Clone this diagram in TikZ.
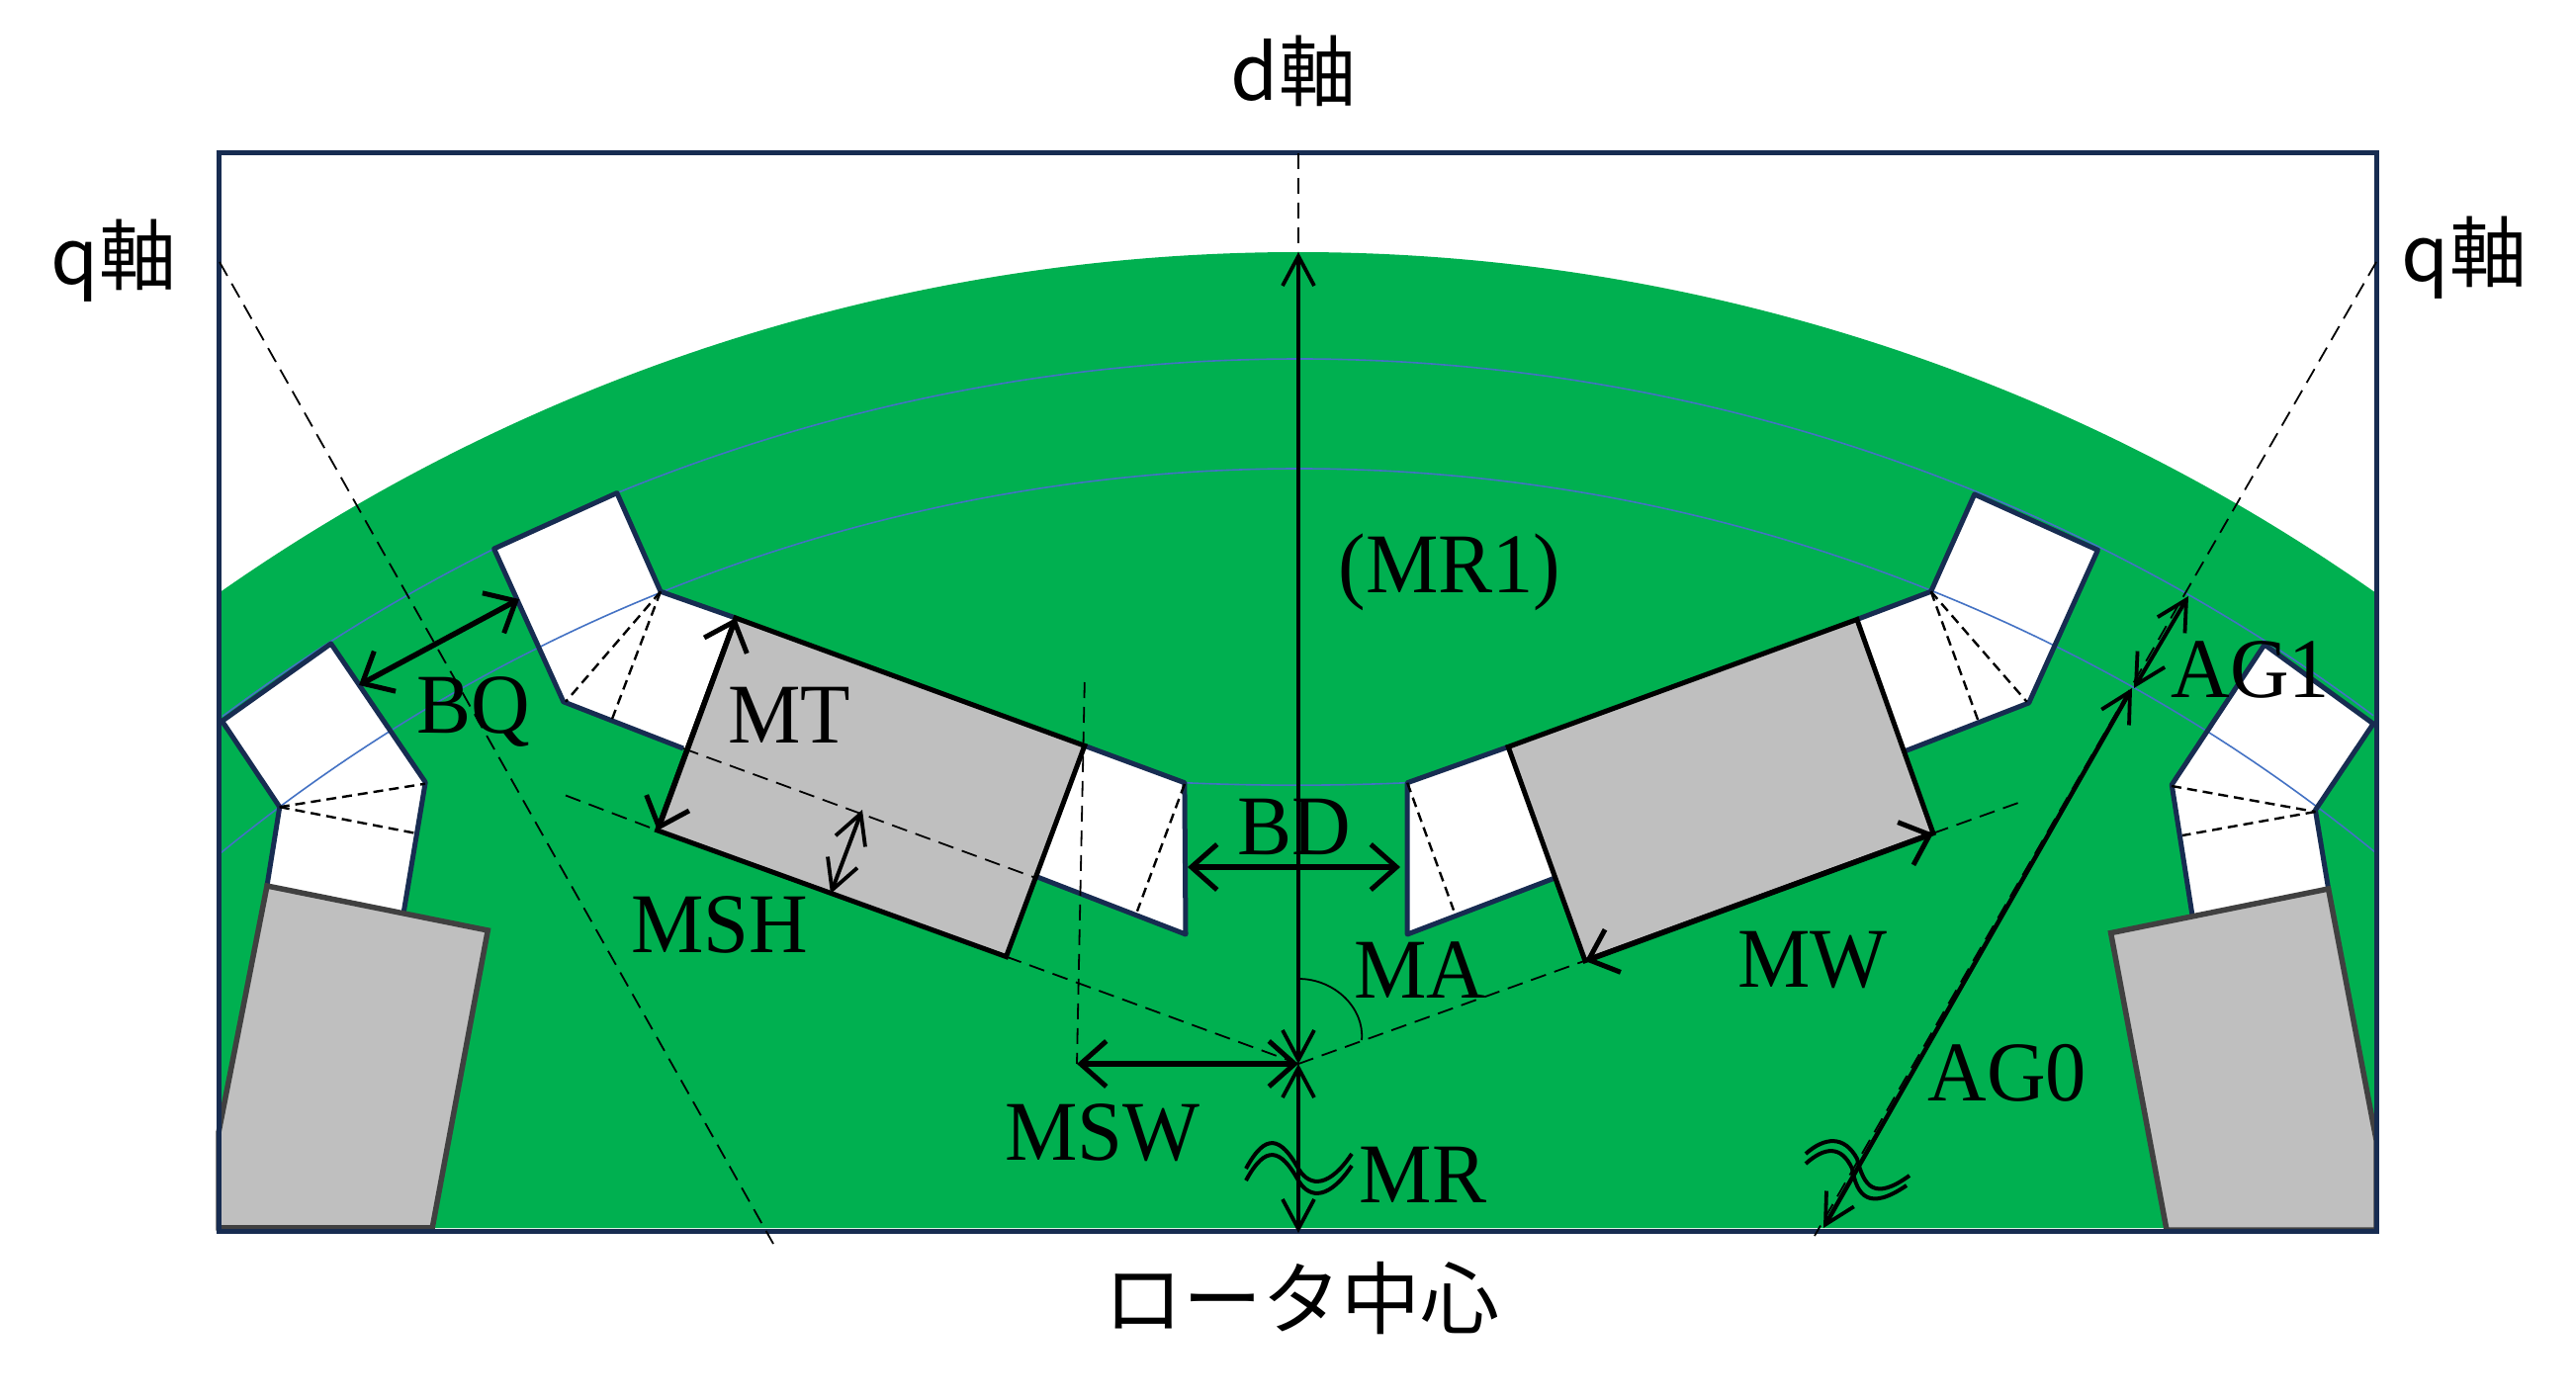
\documentclass[tikz,border=0pt]{standalone}
\usepackage{fontspec}
\setmainfont{Liberation Serif}
\newfontfamily\labf[FakeStretch=0.96]{Liberation Serif}
\newfontfamily\cjkf{Noto Sans CJK JP}
\usetikzlibrary{arrows.meta}
\definecolor{rotor}{HTML}{00B050}
\definecolor{frameblue}{HTML}{172C51}
\definecolor{arcblue}{HTML}{4472C4}
\definecolor{maggrey}{HTML}{BFBFBF}
\definecolor{magedge}{HTML}{404040}
\tikzset{
  pocket/.style={draw=frameblue,line width=5pt,line join=round},
  pocketfill/.style={fill=white},
  magnet/.style={fill=maggrey,draw=black,line width=5pt,line join=miter},
  outermag/.style={fill=maggrey,draw=magedge,line width=5.5pt,line join=miter},
  arcline/.style={draw=arcblue,line width=1.6pt},
  axis/.style={draw=black,line width=1.8pt,dash pattern=on 16pt off 9pt},
  fine/.style={draw=black,line width=2.4pt,dash pattern=on 10pt off 6pt},
  dim/.style={draw=black,line width=5.5pt,{Straight Barb[length=26pt,width=46pt,line width=5pt]}-{Straight Barb[length=26pt,width=46pt,line width=5pt]}},
  dimthin/.style={draw=black,line width=4pt,{Straight Barb[length=30pt,width=32pt,line width=3.8pt]}-{Straight Barb[length=30pt,width=32pt,line width=3.8pt]}},
  brk/.style={draw=black,line width=4pt},
  lab/.style={inner sep=0pt,font=\labf\fontsize{86}{90}\selectfont,text=black},
  jlab/.style={inner sep=0pt,font=\cjkf\fontsize{78}{84}\selectfont,text=black},
}
\begin{document}
\begin{tikzpicture}[x=1pt,y=-1pt]
\useasboundingbox (0,0) rectangle (2605,1415);
% key points
\coordinate (O) at (1313,1076);
\coordinate (TL) at (221,155);
\coordinate (BR) at (2403,1245);
% rotor
\fill[rotor] (221,600) .. controls (876.5,140) and (1749.5,140) .. (2403,600) -- (2403,1242) -- (221,1242) -- cycle;
% pocket fills
\fill[pocketfill] (499.6,555) -- (623.9,498.6) -- (668,598.3) -- (743.9,625) -- (1096.8,754.3) -- (1197.9,791.7) -- (1199,945) -- (1049,887) -- (691,757) -- (569.8,709.8) -- cycle;
\fill[pocketfill] (334.7,651) -- (224.6,729.3) -- (282.8,816.2) -- (270,896) -- (408.4,921.6) -- (430.2,791.2) -- cycle;
\fill[pocketfill] (1423.2,791.7) -- (1525.2,755.4) -- (1877.9,626.5) -- (1952.7,598.3) -- (1996.7,500) -- (2121.4,556.4) -- (2051.7,710.9) -- (1927,759.5) -- (1571.4,888.4) -- (1423.2,945) -- cycle;
\fill[pocketfill] (2290,652) -- (2400,732) -- (2341.4,819.3) -- (2354.6,899) -- (2216.8,924.7) -- (2196.2,793.7) -- cycle;
% blue arcs
\draw[arcline] plot[domain=225:2400,samples=90,smooth] (\x,{2181-1818*sqrt(1-((\x-1313)/1818)^2)});
\draw[arcline] plot[domain=221:2403,samples=90,smooth] (\x,{2196-1722*sqrt(1-((\x-1313)/1722)^2)});
\draw[arcline] (1198,791.7) .. controls (1270,795) and (1350,795) .. (1423,791.7);
% pocket outlines
\draw[pocket] (668,598.3) -- (623.9,498.6) -- (499.6,555) -- (569.8,709.8) -- (691,757);
\draw[pocket] (668,598.3) -- (743.9,625);
\draw[pocket] (1096.8,754.3) -- (1197.9,791.7) -- (1199,945) -- (1049,887);
\draw[pocket] (270,896) -- (282.8,816.2) -- (224.6,729.3) -- (334.7,651) -- (430.2,791.2) -- (408.4,921.6);
\draw[pocket] (1525.2,755.4) -- (1423.2,791.7) -- (1423.2,945) -- (1571.4,888.4);
\draw[pocket] (1877.9,626.5) -- (1952.7,598.3) -- (1996.7,500) -- (2121.4,556.4) -- (2051.7,710.9) -- (1927,759.5);
\draw[pocket] (2354.6,899) -- (2341.4,819.3) -- (2400,732) -- (2290,652) -- (2196.2,793.7) -- (2216.8,924.7);
% magnets
\draw[magnet] (743.9,625) -- (1096.8,754.3) -- (1017.5,967.6) -- (664.6,839.8) -- cycle;
\draw[magnet] (1525.2,755.4) -- (1877.9,626.5) -- (1954.9,842.8) -- (1602.9,971.7) -- cycle;
\draw[outermag] (270,896) -- (493.3,941) -- (437.2,1241.8) -- (221,1241.8) -- (221,1145.6) -- cycle;
\draw[outermag] (2354.6,899) -- (2134.6,943.6) -- (2191,1244) -- (2403,1244) -- (2403,1153) -- cycle;
% small dashes in pockets
\draw[fine] (282.8,816.2) -- (430,792.7);
\draw[fine] (282.8,816.2) -- (420.4,842.8);
\draw[fine] (668,598.3) -- (572,709.8);
\draw[fine] (668,598.3) -- (619,727.2);
\draw[fine] (1197.9,793) -- (1150,921.6);
\draw[fine] (1423.2,791.7) -- (1470,920.6);
\draw[fine] (1952.7,598.3) -- (2000.4,728.8);
\draw[fine] (1952.7,598.3) -- (2049.6,709.8);
\draw[fine] (2196,795) -- (2341.4,821);
\draw[fine] (2341.4,821) -- (2207,845);
% frame
\draw[frameblue,line width=5pt] (TL) rectangle (BR);
% axes and construction lines
\coordinate (qL1) at (222,265);
\coordinate (qL2) at (782,1258);
\coordinate (qR1) at (2403,265);
\coordinate (qR2) at (1835,1250);
\coordinate (dTop) at (1313,155);
\coordinate (dArc) at (1313,255);
\draw[axis] (qL1) -- (qL2);
\draw[axis] (qR1) -- (qR2);
\draw[axis] (dTop) -- (dArc);
\draw[axis] (572,804.5) -- (664.6,839.8);
\draw[axis] (1017.5,967.6) -- (O);
\draw[axis] (O) -- (1602.9,971.7);
\draw[axis] (1954.9,842.8) -- (2041,812);
\draw[axis] (691,757) -- (1045.6,887.3);
\draw[axis] (1096.8,690) -- (1089,1076);
% MA angle
\draw[black,line width=1.8pt] (1313,990) .. controls (1350,990) and (1380,1020) .. (1377,1052);
% dimension arrows
\coordinate (mrBot) at (1313,1247);
\draw[dimthin] (dArc) -- (O);
\draw[dimthin] (O) -- (mrBot);
\draw[dim] (1089,1076) -- (O);
\draw[dim] (1201,877) -- (1416,877);
\draw[dim] (525,606) -- (363,693);
\draw[dim] (744,625) -- (665,840);
\draw[dimthin,line width=4pt] (872,819) -- (840,904);
\draw[dim] (1955,843) -- (1603,972);
\draw[dimthin] (2213,603) -- (2158,696);
\draw[dimthin,line width=4.5pt] (2156,696) -- (1844,1242);
% break marks
\draw[brk] (1260,1182) .. controls (1280,1145) and (1295,1150) .. (1313,1182) .. controls (1325,1202) and (1345,1200) .. (1367,1167);
\draw[brk] (1260,1194) .. controls (1280,1157) and (1295,1162) .. (1313,1194) .. controls (1325,1214) and (1345,1212) .. (1367,1179);
\draw[brk] (1826,1167) .. controls (1845,1150) and (1865,1148) .. (1878,1172) .. controls (1885,1200) and (1895,1215) .. (1931,1189);
\draw[brk] (1826,1177) .. controls (1845,1160) and (1862,1158) .. (1873,1182) .. controls (1878,1210) and (1890,1225) .. (1928,1199);
% labels
\node[lab] (lMT) at (798,723) {MT};
\node[lab] (lBQ) at (479,720) {BQ};
\node[lab] (lMSH) at (728,935) {MSH};
\node[lab] (lBD) at (1309,836) {BD};
\node[lab] (lMR1) at (1466,579) {(MR1)};
\node[lab] (lMA) at (1436,981) {MA};
\node[lab] (lMW) at (1833,971) {MW};
\node[lab] (lMSW) at (1115,1146) {MSW};
\node[lab] (lMR) at (1439,1188) {MR};
\node[lab] (lAG0) at (2030,1085) {AG0};
\node[lab] (lAG1) at (2276,677) {AG1};
\node[jlab] (ld) at (1308,72) {d軸};
\node[jlab] (lqL) at (115,264) {q軸};
\node[jlab] (lqR) at (2492,261) {q軸};
\node[jlab,font=\cjkf\fontsize{80}{84}\selectfont] (lc) at (1316,1313) {ロータ中心};
\end{tikzpicture}
\end{document}
